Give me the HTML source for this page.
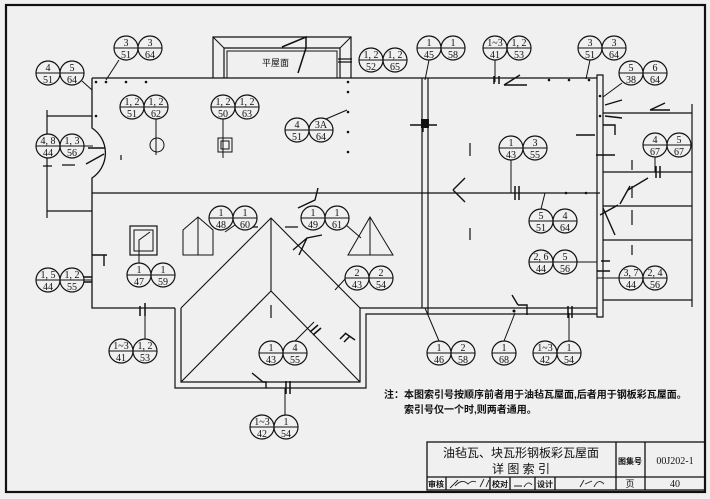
<!DOCTYPE html>
<html><head><meta charset="utf-8"><style>
html,body{margin:0;padding:0;background:#f0f0f0;}
svg{display:block}
text{font-family:"Liberation Serif","Noto Serif CJK SC",serif;fill:#111}
.c{font-family:"Liberation Sans","Noto Sans CJK SC",sans-serif}
</style></head><body>
<svg width="710" height="499" viewBox="0 0 710 499" xmlns="http://www.w3.org/2000/svg">
<defs>
<g id="P"><circle cx="0" cy="0" r="12" fill="#f0f0f0" stroke="#111" stroke-width="1.2"/></g>
</defs>
<rect x="0" y="0" width="710" height="499" fill="#f0f0f0"/>
<g fill="none" stroke="#111">
<rect x="6" y="5" width="699" height="487" stroke-width="2.2"/>
<path d="M213 78 V37 H351 V78" stroke-width="1.2"/>
<path d="M224 78 V48 H340 V78" stroke-width="1.2"/>
<path d="M227 78 V51 H337 V78" stroke-width="1"/>
<path d="M213 37 L224 48 M351 37 L340 48" stroke-width="1"/>
<path d="M282 47 L306 37 V48 M306 48 L298 73" stroke-width="1.5"/>
<path d="M338 59 H352 M338 62 H352" stroke-width="1.2"/>
<path d="M92 78 H597" stroke-width="1.3"/>
<path d="M92 78 V128 A30 30 0 0 1 92 178 V308 H175" stroke-width="1.3"/>
<path d="M92 193 H600" stroke-width="1.2"/>
<path d="M47 110 V218 M47 116 H92 M47 211 H92" stroke-width="1.2"/>
<path d="M422 78 V308 M428 78 V314" stroke-width="1.2"/>
<path d="M597 75 V317 H603 V75 Z" stroke-width="1.2"/>
<path d="M603 113 H692 M603 172 H692 M603 206 H692 M603 240 H692 M603 300 H692 M692 104 V307" stroke-width="1.2"/>
<path d="M175 308 V388 H366 V314 H597" stroke-width="1.2"/>
<path d="M181 308 V382 H360 V308 H597" stroke-width="1.2"/>
<path d="M181 308 L271 218 L360 308 M271 218 V291 M181 382 L271 291 L360 382" stroke-width="1.1"/>
<rect x="130" y="226" width="27" height="29" stroke-width="1.2"/>
<rect x="134" y="230" width="19" height="21" stroke-width="1"/>
<path d="M183 255 V230 L198 217 L213 230 V255 Z M198 217 V255" stroke-width="1"/>
<path d="M348 255 L370 217 L393 255 Z M370 217 V255" stroke-width="1"/>
<circle cx="157" cy="145" r="7" stroke-width="1"/>
<rect x="218" y="138" width="14" height="14" stroke-width="1"/>
<rect x="221" y="141" width="8" height="8" stroke-width="1"/>
<path d="M156 119 V155 M223 119 V158 M326 119 L347 110 M92 90 L82 81 M106 80 L119 60 M429 60 L425 80 M495 60 V82 M590 60 L586 79 M622 83 L603 97 M511 160 V193 M541 209 L545 193 M655 157 V172 M139 263 V240 L150 232 M357 266 L335 290 M563 262 H597 M619 278 H597 M72 280 H92 M145 339 V308 M283 353 L314 322 M439 341 L425 308 M504 341 L515 313 M569 341 V313 M285 415 V388 M245 218 L225 232 M338 218 L361 238" stroke-width="1"/>
<path d="M494 76 V84 M499 76 V84 M515 186 V200 M519 186 V200 M140 306 V316 M145 303 V316 M656 166 V178 M660 166 V178 M601 261 H610 M597 271 H610 M80 277 H92 M80 282 H92 M310 332 L318 325 M313 335 L321 328 M568 306 V318 M572 306 V318 M286 381 V394 M290 381 V394 M340 339 L346 333 M344 342 L350 336" stroke-width="1.5"/>
<path d="M470 143 V156 M470 228 V240 M247 227 H258 M285 227 H298 M271 305 V318 M62 165 H75 M43 166 H52 M632 160 V170 M632 186 V198 M632 210 V225 M632 245 V255 M121 155 V160" stroke-width="1.2"/>
<path d="M410 125 H437 M423 120 V132 M576 135 H595 M603 125 H615 V135 M596 155 H615 M88 148 H105 M86 164 L104 154 M504 85 L520 75 M504 85 H527 M453 190 L465 178 M453 190 L465 202 M605 105 L622 100 M605 116 L622 118 M628 190 L648 178 M620 204 L630 186 M650 110 L665 103 M650 110 H670 M600 215 L618 205 M615 235 L603 208 M92 255 H107 M104 255 V266 M298 208 L315 200 L318 188 M293 250 L307 238 M299 255 L307 238 L322 235 M518 305 L512 295 M518 305 H527 V315 M252 373 L263 382 H266 V388 M345 333 L355 340" stroke-width="1.4"/>
</g>
<g fill="#111">
<circle cx="96" cy="82" r="1.3"/><circle cx="106" cy="82" r="1.3"/><circle cx="126" cy="82" r="1.3"/><circle cx="146" cy="82" r="1.3"/>
<circle cx="96" cy="116" r="1.3"/><circle cx="348" cy="82" r="1.3"/><circle cx="348" cy="92" r="1.3"/><circle cx="348" cy="112" r="1.3"/>
<circle cx="348" cy="132" r="1.3"/><circle cx="348" cy="152" r="1.3"/><circle cx="549" cy="80" r="1.3"/><circle cx="569" cy="80" r="1.3"/>
<circle cx="589" cy="80" r="1.3"/><circle cx="600" cy="96" r="1.3"/><circle cx="600" cy="116" r="1.3"/><circle cx="566" cy="193" r="1.3"/><circle cx="586" cy="193" r="1.3"/>
<circle cx="514" cy="311" r="1.5"/><rect x="421" y="119" width="8" height="9"/>
</g>
<text x="262" y="66" font-size="9" class="c">平屋面</text>
<g font-size="10" text-anchor="middle">
<g transform="translate(48,73)"><use href="#P"/><use href="#P" x="24"/><path d="M-12 0 H36" stroke="#111"/><text y="-2">4</text><text y="10">51</text><text x="24" y="-2">5</text><text x="24" y="10">64</text></g>
<g transform="translate(126,48)"><use href="#P"/><use href="#P" x="24"/><path d="M-12 0 H36" stroke="#111"/><text y="-2">3</text><text y="10">51</text><text x="24" y="-2">3</text><text x="24" y="10">64</text></g>
<g transform="translate(371,60)"><use href="#P"/><use href="#P" x="24"/><path d="M-12 0 H36" stroke="#111"/><text y="-2">1, 2</text><text y="10">52</text><text x="24" y="-2">1, 2</text><text x="24" y="10">65</text></g>
<g transform="translate(429,48)"><use href="#P"/><use href="#P" x="24"/><path d="M-12 0 H36" stroke="#111"/><text y="-2">1</text><text y="10">45</text><text x="24" y="-2">1</text><text x="24" y="10">58</text></g>
<g transform="translate(495,48)"><use href="#P"/><use href="#P" x="24"/><path d="M-12 0 H36" stroke="#111"/><text y="-2">1~3</text><text y="10">41</text><text x="24" y="-2">1, 2</text><text x="24" y="10">53</text></g>
<g transform="translate(590,48)"><use href="#P"/><use href="#P" x="24"/><path d="M-12 0 H36" stroke="#111"/><text y="-2">3</text><text y="10">51</text><text x="24" y="-2">3</text><text x="24" y="10">64</text></g>
<g transform="translate(631,73)"><use href="#P"/><use href="#P" x="24"/><path d="M-12 0 H36" stroke="#111"/><text y="-2">5</text><text y="10">38</text><text x="24" y="-2">6</text><text x="24" y="10">64</text></g>
<g transform="translate(132,107)"><use href="#P"/><use href="#P" x="24"/><path d="M-12 0 H36" stroke="#111"/><text y="-2">1, 2</text><text y="10">51</text><text x="24" y="-2">1, 2</text><text x="24" y="10">62</text></g>
<g transform="translate(223,107)"><use href="#P"/><use href="#P" x="24"/><path d="M-12 0 H36" stroke="#111"/><text y="-2">1, 2</text><text y="10">50</text><text x="24" y="-2">1, 2</text><text x="24" y="10">63</text></g>
<g transform="translate(297,130)"><use href="#P"/><use href="#P" x="24"/><path d="M-12 0 H36" stroke="#111"/><text y="-2">4</text><text y="10">51</text><text x="24" y="-2">3A</text><text x="24" y="10">64</text></g>
<g transform="translate(48,146)"><use href="#P"/><use href="#P" x="24"/><path d="M-12 0 H45" stroke="#111"/><text y="-2">4, 8</text><text y="10">44</text><text x="24" y="-2">1, 3</text><text x="24" y="10">56</text></g>
<g transform="translate(511,148)"><use href="#P"/><use href="#P" x="24"/><path d="M-12 0 H36" stroke="#111"/><text y="-2">1</text><text y="10">43</text><text x="24" y="-2">3</text><text x="24" y="10">55</text></g>
<g transform="translate(655,145)"><use href="#P"/><use href="#P" x="24"/><path d="M-12 0 H36" stroke="#111"/><text y="-2">4</text><text y="10">67</text><text x="24" y="-2">5</text><text x="24" y="10">67</text></g>
<g transform="translate(221,218)"><use href="#P"/><use href="#P" x="24"/><path d="M-12 0 H36" stroke="#111"/><text y="-2">1</text><text y="10">48</text><text x="24" y="-2">1</text><text x="24" y="10">60</text></g>
<g transform="translate(313,218)"><use href="#P"/><use href="#P" x="24"/><path d="M-12 0 H36" stroke="#111"/><text y="-2">1</text><text y="10">49</text><text x="24" y="-2">1</text><text x="24" y="10">61</text></g>
<g transform="translate(541,221)"><use href="#P"/><use href="#P" x="24"/><path d="M-12 0 H36" stroke="#111"/><text y="-2">5</text><text y="10">51</text><text x="24" y="-2">4</text><text x="24" y="10">64</text></g>
<g transform="translate(139,275)"><use href="#P"/><use href="#P" x="24"/><path d="M-12 0 H36" stroke="#111"/><text y="-2">1</text><text y="10">47</text><text x="24" y="-2">1</text><text x="24" y="10">59</text></g>
<g transform="translate(357,278)"><use href="#P"/><use href="#P" x="24"/><path d="M-12 0 H36" stroke="#111"/><text y="-2">2</text><text y="10">43</text><text x="24" y="-2">2</text><text x="24" y="10">54</text></g>
<g transform="translate(541,262)"><use href="#P"/><use href="#P" x="24"/><path d="M-12 0 H36" stroke="#111"/><text y="-2">2, 6</text><text y="10">44</text><text x="24" y="-2">5</text><text x="24" y="10">56</text></g>
<g transform="translate(631,278)"><use href="#P"/><use href="#P" x="24"/><path d="M-12 0 H36" stroke="#111"/><text y="-2">3, 7</text><text y="10">44</text><text x="24" y="-2">2, 4</text><text x="24" y="10">56</text></g>
<g transform="translate(48,280)"><use href="#P"/><use href="#P" x="24"/><path d="M-12 0 H36" stroke="#111"/><text y="-2">1, 5</text><text y="10">44</text><text x="24" y="-2">1, 2</text><text x="24" y="10">55</text></g>
<g transform="translate(121,351)"><use href="#P"/><use href="#P" x="24"/><path d="M-12 0 H36" stroke="#111"/><text y="-2">1~3</text><text y="10">41</text><text x="24" y="-2">1, 2</text><text x="24" y="10">53</text></g>
<g transform="translate(271,353)"><use href="#P"/><use href="#P" x="24"/><path d="M-12 0 H36" stroke="#111"/><text y="-2">1</text><text y="10">43</text><text x="24" y="-2">4</text><text x="24" y="10">55</text></g>
<g transform="translate(439,353)"><use href="#P"/><use href="#P" x="24"/><path d="M-12 0 H36" stroke="#111"/><text y="-2">1</text><text y="10">46</text><text x="24" y="-2">2</text><text x="24" y="10">58</text></g>
<g transform="translate(504,353)"><use href="#P"/><path d="M-12 0 H12" stroke="#111"/><text y="-2">1</text><text y="10">68</text></g>
<g transform="translate(545,353)"><use href="#P"/><use href="#P" x="24"/><path d="M-12 0 H36" stroke="#111"/><text y="-2">1~3</text><text y="10">42</text><text x="24" y="-2">1</text><text x="24" y="10">54</text></g>
<g transform="translate(262,427)"><use href="#P"/><use href="#P" x="24"/><path d="M-12 0 H36" stroke="#111"/><text y="-2">1~3</text><text y="10">42</text><text x="24" y="-2">1</text><text x="24" y="10">54</text></g>
</g>
<text x="384" y="398" font-size="10" class="c" font-weight="bold">注：本图索引号按顺序前者用于油毡瓦屋面,后者用于钢板彩瓦屋面。</text>
<text x="404" y="413" font-size="10" class="c" font-weight="bold">索引号仅一个时,则两者通用。</text>
<g fill="none" stroke="#111" stroke-width="1.3">
<rect x="427" y="442" width="278" height="48"/>
<path d="M427 477 H705 M616 442 V490 M645 442 V490 M446 477 V490 M490 477 V490 M510 477 V490 M535 477 V490 M555 477 V490"/>
</g>
<text x="521" y="457" font-size="12" class="c" text-anchor="middle">油毡瓦、块瓦形钢板彩瓦屋面</text>
<text x="521" y="473" font-size="12" class="c" text-anchor="middle">详 图 索 引</text>
<text x="630" y="464" font-size="8" class="c" text-anchor="middle" font-weight="bold">图集号</text>
<text x="675" y="464" font-size="10" text-anchor="middle">00J202-1</text>
<text x="436" y="487" font-size="8" class="c" text-anchor="middle" font-weight="bold">审核</text>
<text x="500" y="487" font-size="8" class="c" text-anchor="middle" font-weight="bold">校对</text>
<text x="545" y="487" font-size="8" class="c" text-anchor="middle" font-weight="bold">设计</text>
<text x="630" y="487" font-size="9" class="c" text-anchor="middle">页</text>
<text x="675" y="487" font-size="10" text-anchor="middle">40</text>
<g fill="none" stroke="#222" stroke-width="0.9">
<path d="M450 488 L458 480 M455 486 Q462 478 468 484 Q472 480 476 482 M480 487 L484 479 M486 487 L489 480"/>
<path d="M514 486 H522 M524 487 Q528 480 532 485"/>
<path d="M580 487 L584 480 M585 484 L592 481 M594 487 Q598 478 604 484"/>
</g>
</svg>
</body></html>
